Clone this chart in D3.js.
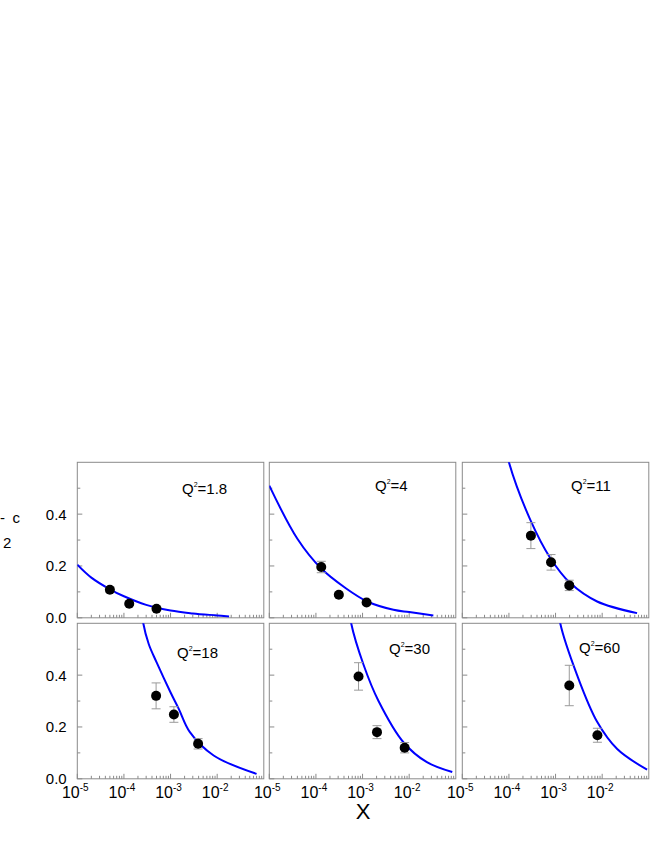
<!DOCTYPE html>
<meta charset="utf-8">
<style>
  body { margin: 0; background: #fff; }
  svg { display: block; font-family: "Liberation Sans", Arial, sans-serif; }
  .frame { fill: none; stroke: #8a8a8a; stroke-width: 1; }
  .tick { stroke: #8a8a8a; stroke-width: 1; }
  .curve { fill: none; stroke: #0000ff; stroke-width: 2; }
  .err { stroke: #9a9a9a; stroke-width: 1; }
  .dot { fill: #000; }
</style>
<body>
<svg id="chart" width="654" height="846"></svg>
<script src="https://cdn.jsdelivr.net/npm/d3@7"></script>
<script>
// panel titles (Q^2 values)
var q2Labels = ["1.8", "4", "11", "18", "30", "60"];

// theory curves, one per panel
var curveX = [
  [1e-5, 2e-5, 5e-5, 1e-4, 3e-4, 1e-3, 3e-3, 1e-2, 1.8e-2],
  [1e-5, 4e-5, 1.3e-4, 4.3e-4, 1.26e-3, 4.6e-3, 1e-2, 3.3e-2],
  [8.5e-5, 1e-4, 2.86e-4, 7.7e-4, 2.07e-3, 7.8e-3, 5.6e-2],
  [2.4e-4, 2.6e-4, 3.4e-4, 5e-4, 9.9e-4, 1.5e-3, 2.6e-3, 8.4e-3, 7e-2],
  [5.2e-4, 5.7e-4, 1.05e-3, 2.2e-3, 7.6e-3, 2.4e-2, 8.4e-2],
  [1.15e-3, 1.26e-3, 2.9e-3, 7.8e-3, 2.1e-2, 9.2e-2]
];
var curveY = [
  [0.205, 0.155, 0.11, 0.083, 0.05, 0.028, 0.017, 0.009, 0.005],
  [0.51, 0.305, 0.19, 0.115, 0.063, 0.031, 0.022, 0.009],
  [0.66, 0.6, 0.379, 0.231, 0.134, 0.063, 0.018],
  [0.66, 0.6, 0.52, 0.45, 0.335, 0.27, 0.18, 0.09, 0.019],
  [0.66, 0.6, 0.44, 0.30, 0.14, 0.064, 0.026],
  [0.66, 0.6, 0.40, 0.22, 0.115, 0.035]
];

// measured points with errors
var pointX = [
  [5e-5, 1.3e-4, 5e-4],
  [1.3e-4, 3.1e-4, 1.22e-3],
  [2.96e-4, 8e-4, 1.97e-3],
  [4.9e-4, 1.18e-3, 3.9e-3],
  [8.2e-4, 2.04e-3, 8e-3],
  [1.97e-3, 7.9e-3]
];
var pointY = [
  [0.108, 0.054, 0.035],
  [0.196, 0.089, 0.059],
  [0.317, 0.214, 0.125],
  [0.32, 0.248, 0.135],
  [0.395, 0.18, 0.12],
  [0.36, 0.168]
];
var pointErr = [
  [0.01, 0.004, 0.004],
  [0.022, 0.005, 0.005],
  [0.05, 0.03, 0.02],
  [0.05, 0.03, 0.02],
  [0.053, 0.025, 0.02],
  [0.078, 0.027]
];

var yTickLabels = ["0.0", "0.2", "0.4"];
var xTickLabels = ["-5", "-4", "-3", "-2"];

// layout
var colX = [77.3, 269.3, 462.3], rowY = [462.3, 623.3];
var W = 186.5, H = 155.5;
var labelPos = [[104.7, 31.7], [105.7, 28.7], [108.7, 28.7], [99.7, 34.4], [119.7, 30.7], [116.7, 29.7]];

var x = d3.scaleLog().domain([1e-5, 1e-1]).range([0, W]);
var y = d3.scaleLinear().domain([0, 0.6]).range([H, 0]);

var majorX = [1e-5, 1e-4, 1e-3, 1e-2];
var minorX = [];
majorX.forEach(function(d) {
  for (var k = 2; k <= 9; k++) minorX.push(d * k);
});

var svg = d3.select("#chart");
svg.append("defs").append("clipPath").attr("id", "clip")
  .append("rect").attr("width", W).attr("height", H);

var line = d3.line()
  .x(function(d) { return x(d[0]); })
  .y(function(d) { return y(d[1]); })
  .curve(d3.curveCatmullRom.alpha(0.5));

q2Labels.forEach(function(q, i) {
  var col = i % 3, row = Math.floor(i / 3);
  var g = svg.append("g")
    .attr("transform", "translate(" + colX[col] + "," + rowY[row] + ")");

  // y ticks (inward)
  g.selectAll(".yt").data(d3.range(0, 0.6, 0.1)).enter().append("line")
    .attr("class", "tick")
    .attr("x1", 0).attr("x2", function(d, j) { return j % 2 ? 3 : 5; })
    .attr("y1", function(d) { return y(d); }).attr("y2", function(d) { return y(d); });

  // x ticks (inward)
  g.selectAll(".xm").data(minorX).enter().append("line")
    .attr("class", "tick")
    .attr("x1", function(d) { return x(d); }).attr("x2", function(d) { return x(d); })
    .attr("y1", H).attr("y2", H - 3);
  g.selectAll(".xM").data(majorX).enter().append("line")
    .attr("class", "tick")
    .attr("x1", function(d) { return x(d); }).attr("x2", function(d) { return x(d); })
    .attr("y1", H).attr("y2", H - 5);

  g.append("rect").attr("class", "frame").attr("width", W).attr("height", H);

  // curve
  var cg = g.append("g").attr("clip-path", "url(#clip)");
  cg.append("path").attr("class", "curve")
    .attr("d", line(d3.zip(curveX[i], curveY[i])));

  // points
  var pts = pointX[i].map(function(px, j) {
    return { x: px, y: pointY[i][j], e: pointErr[i][j] };
  });
  var pg = g.selectAll(".pt").data(pts).enter().append("g");
  pg.append("line").attr("class", "err")
    .attr("x1", function(d) { return x(d.x); }).attr("x2", function(d) { return x(d.x); })
    .attr("y1", function(d) { return y(d.y - d.e); }).attr("y2", function(d) { return y(d.y + d.e); });
  [-1, 1].forEach(function(s) {
    pg.append("line").attr("class", "err")
      .attr("x1", function(d) { return x(d.x) - 4.5; }).attr("x2", function(d) { return x(d.x) + 4.5; })
      .attr("y1", function(d) { return y(d.y + s * d.e); }).attr("y2", function(d) { return y(d.y + s * d.e); });
  });
  pg.append("circle").attr("class", "dot")
    .attr("cx", function(d) { return x(d.x); })
    .attr("cy", function(d) { return y(d.y); })
    .attr("r", 5);

  // Q^2 label
  var t = g.append("text")
    .attr("x", labelPos[i][0]).attr("y", labelPos[i][1])
    .style("font-size", "15px");
  t.append("tspan").text("Q");
  t.append("tspan").attr("dy", -6.5).style("font-size", "7px").text("2");
  t.append("tspan").attr("dy", 6.5).text("=" + q);

  // y labels on first column
  if (col === 0) {
    g.selectAll(".yl").data(yTickLabels).enter().append("text")
      .attr("x", -10.6).attr("y", function(d) { return y(+d); })
      .attr("dy", "0.36em")
      .attr("text-anchor", "end")
      .style("font-size", "15px")
      .text(function(d) { return d; });
  }

  // x labels on bottom row
  if (row === 1) {
    var xl = g.selectAll(".xl").data(majorX).enter().append("text")
      .attr("x", function(d) { return x(d) - 2; }).attr("y", H + 19.5)
      .attr("text-anchor", "middle")
      .style("font-size", "16px");
    xl.append("tspan").text("10");
    xl.append("tspan").attr("dy", -7.5).style("font-size", "10px")
      .text(function(d, j) { return xTickLabels[j]; });
  }
});

// axis titles
svg.append("text").attr("x", 363).attr("y", 819)
  .attr("text-anchor", "middle").style("font-size", "22px").text("X");

var yt = svg.append("text").style("font-size", "15px");
yt.append("tspan").attr("x", 0).attr("y", 523).text("-");
yt.append("tspan").attr("x", 12.5).attr("y", 523).text("c");
yt.append("tspan").attr("x", 3).attr("y", 548).text("2");
</script>
</body>
